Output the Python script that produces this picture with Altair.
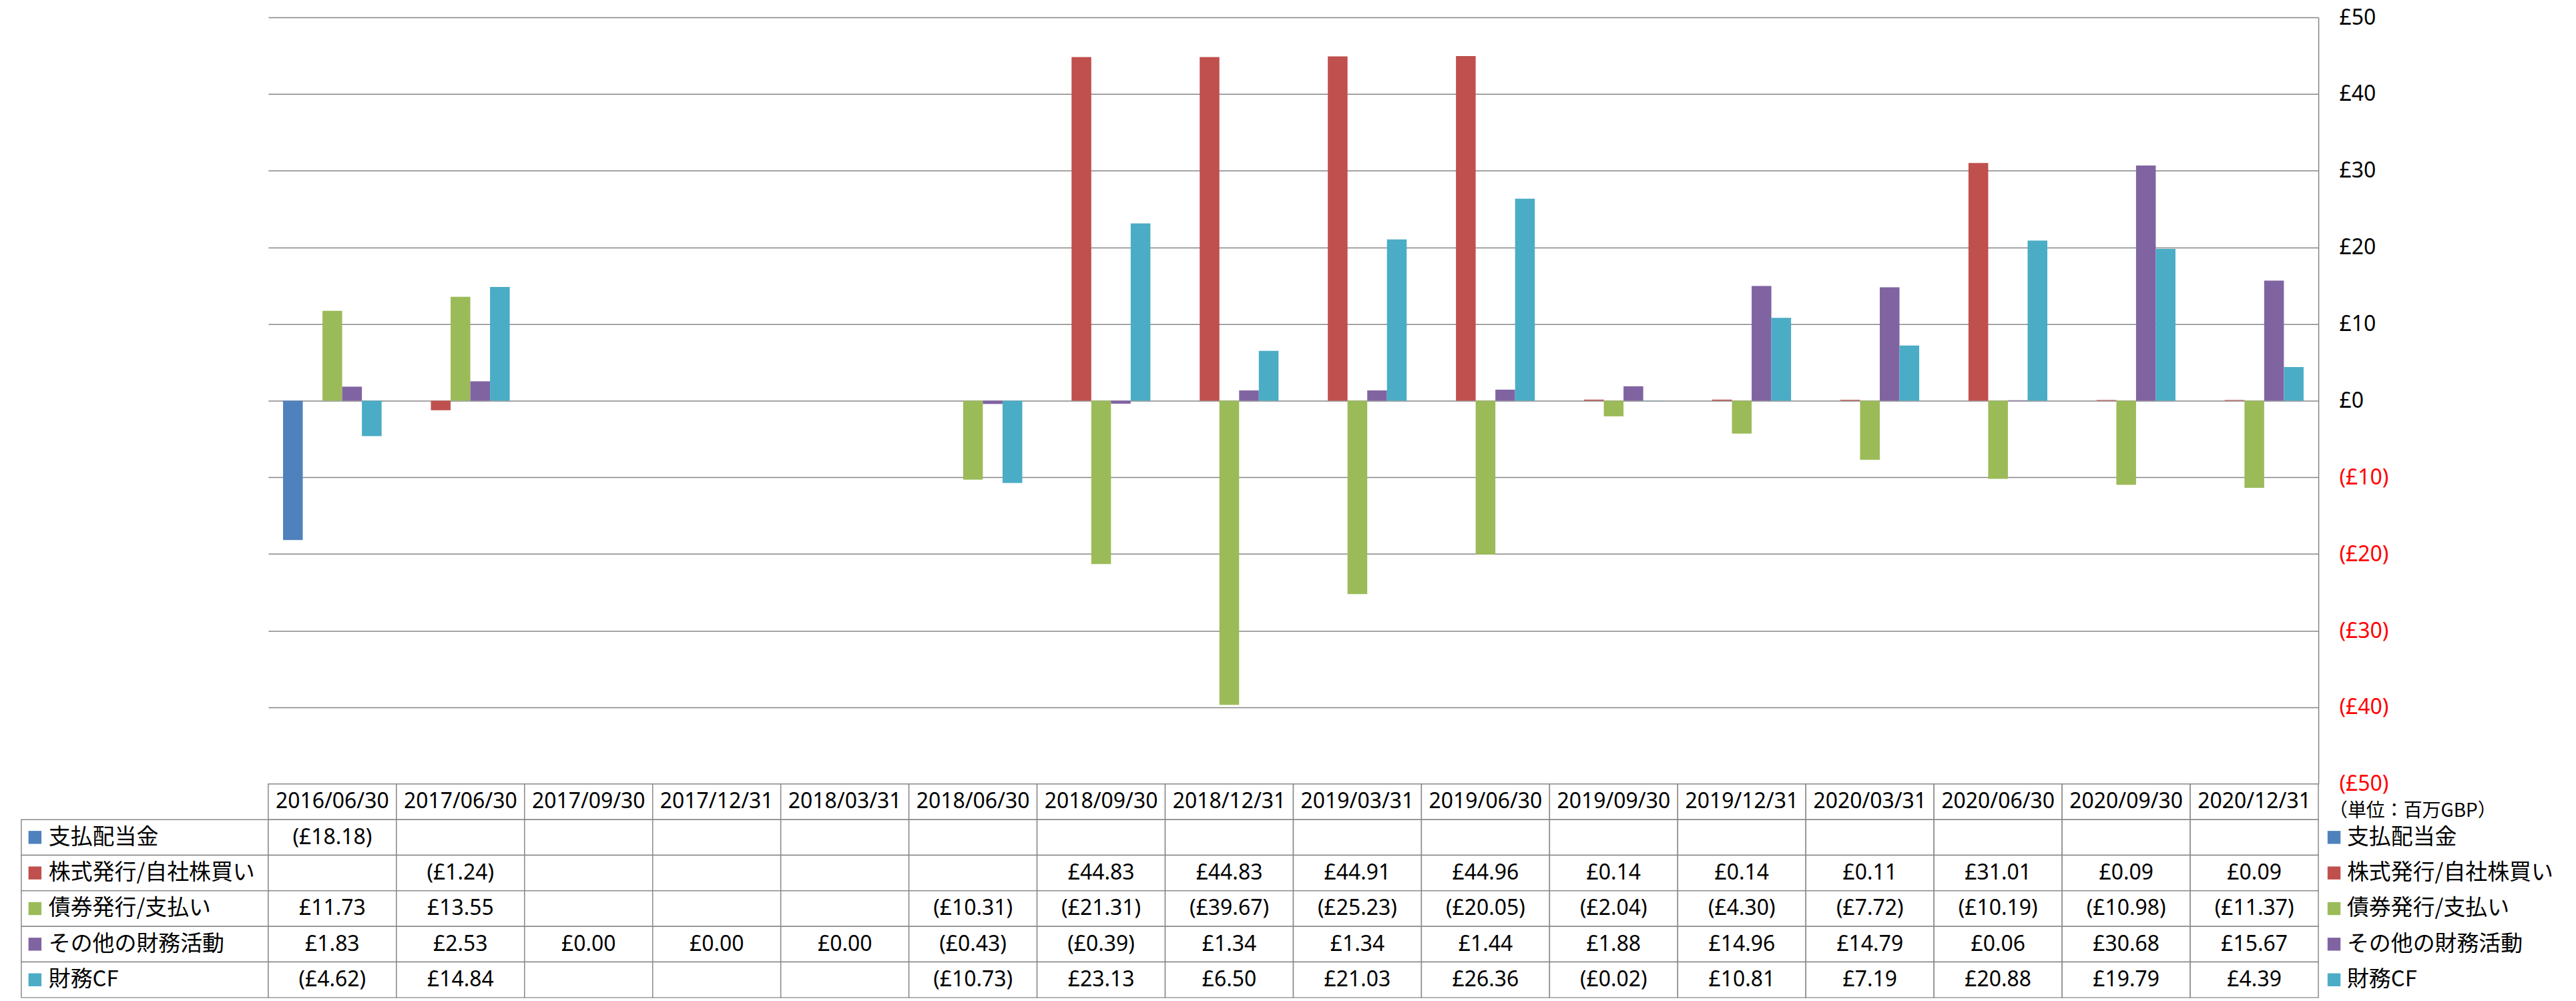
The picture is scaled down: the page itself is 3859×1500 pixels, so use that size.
import altair as alt
import pandas as pd

# ---------------- data ----------------
dates = ["2016/06/30", "2017/06/30", "2017/09/30", "2017/12/31", "2018/03/31",
         "2018/06/30", "2018/09/30", "2018/12/31", "2019/03/31", "2019/06/30",
         "2019/09/30", "2019/12/31", "2020/03/31", "2020/06/30", "2020/09/30",
         "2020/12/31"]
series = ["支払配当金", "株式発行/自社株買い", "債券発行/支払い", "その他の財務活動", "財務CF"]
colors = ["#4F81BD", "#C0504D", "#9BBB59", "#8064A2", "#4BACC6"]

dividends = [-18.18, None, None, None, None, None, None, None, None, None, None, None, None, None, None, None]
equity = [None, -1.24, None, None, None, None, 44.83, 44.83, 44.91, 44.96, 0.14, 0.14, 0.11, 31.01, 0.09, 0.09]
debt = [11.73, 13.55, None, None, None, -10.31, -21.31, -39.67, -25.23, -20.05, -2.04, -4.30, -7.72, -10.19, -10.98, -11.37]
other = [1.83, 2.53, 0.00, 0.00, 0.00, -0.43, -0.39, 1.34, 1.34, 1.44, 1.88, 14.96, 14.79, 0.06, 30.68, 15.67]
fin_cf = [-4.62, 14.84, None, None, None, -10.73, 23.13, 6.50, 21.03, 26.36, -0.02, 10.81, 7.19, 20.88, 19.79, 4.39]

y_ticks = [50, 40, 30, 20, 10, 0, -10, -20, -30, -40, -50]
unit_label = "（単位：百万GBP）"

all_values = [dividends, equity, debt, other, fin_cf]

rows = []
for s, vals in zip(series, all_values):
    for d, v in zip(dates, vals):
        rows.append({"date": d, "row": s, "value": v})
df = pd.DataFrame(rows)

HEADER = "header"
row_domain = [HEADER] + series
hdr = pd.DataFrame({"date": dates, "row": [HEADER] * len(dates), "value": [None] * len(dates)})
table_df = pd.concat([hdr, df], ignore_index=True)

# ---------------- styling ----------------
GRID = "#868686"
LINE = "#898989"
NUM_FONT = "Noto Sans"
JP_FONT = "Noto Sans CJK JP"
LABEL_W = 371
PLOT_W = 3080
LEGEND_W = 379
PLOT_H = 1152
TABLE_H = 321

x_scale = alt.Scale(domain=dates, paddingInner=0, paddingOuter=0)
row_scale = alt.Scale(domain=row_domain, paddingInner=0, paddingOuter=0)
color_scale = alt.Scale(domain=series, range=colors)

# ---------------- bars ----------------
bars = alt.Chart(df).transform_filter("isValid(datum.value)").mark_bar().encode(
    x=alt.X("date:N", scale=x_scale, axis=None),
    xOffset=alt.XOffset("row:N", scale=alt.Scale(domain=series, paddingInner=0, paddingOuter=0.75)),
    y=alt.Y("value:Q",
            scale=alt.Scale(domain=[-50, 50], nice=False, zero=False),
            axis=alt.Axis(orient="right", values=y_ticks, title=None,
                          ticks=False, domain=True, domainColor=GRID, domainWidth=1.5,
                          grid=True, gridColor=GRID, gridWidth=1.5,
                          labelFont=NUM_FONT, labelFontSize=32, labelPadding=31,
                          labelAlign="left",
                          labelExpr="datum.value < 0 ? '(£' + format(-datum.value, 'd') + ')' : '£' + format(datum.value, 'd')",
                          labelColor={"condition": {"test": "datum.value < 0", "value": "#FF0000"}, "value": "#000000"})),
    color=alt.Color("row:N", scale=color_scale, legend=None),
).properties(width=PLOT_W, height=PLOT_H)

spacer_left = alt.Chart(pd.DataFrame({"a": [0]})).mark_point(opacity=0).encode(
    x=alt.value(0), y=alt.value(0)
).properties(width=LABEL_W, height=PLOT_H)
spacer_right = alt.Chart(pd.DataFrame({"a": [0]})).mark_point(opacity=0).encode(
    x=alt.value(0), y=alt.value(0)
).properties(width=LEGEND_W, height=PLOT_H)

# ---------------- table cells ----------------
cell_base = alt.Chart(table_df).encode(
    x=alt.X("date:N", scale=x_scale, axis=None),
    y=alt.Y("row:N", scale=row_scale, axis=None),
)
cell_rect = cell_base.mark_rect(fill="white", stroke=LINE, strokeWidth=1.5)
cell_text = cell_base.transform_calculate(
    txt="datum.row == 'header' ? datum.date : (isValid(datum.value) ? (datum.value < 0 ? '(£' + format(-datum.value, '.2f') + ')' : '£' + format(datum.value, '.2f')) : '')"
).mark_text(font=NUM_FONT, fontSize=32, color="black", align="center", baseline="middle").encode(
    text="txt:N"
)
cells = alt.layer(cell_rect, cell_text).properties(width=PLOT_W, height=TABLE_H)

# ---------------- label column ----------------
lab_df = pd.DataFrame({"row": series, "col": ["label"] * len(series)})
lab_base = alt.Chart(lab_df).encode(y=alt.Y("row:N", scale=row_scale, axis=None))
lab_rect = lab_base.mark_rect(fill="white", stroke=LINE, strokeWidth=1.5).encode(
    x=alt.X("col:N", scale=alt.Scale(domain=["label"], paddingInner=0, paddingOuter=0), axis=None)
)
lab_sw = lab_base.mark_square(size=380, opacity=1).encode(
    x=alt.value(20.5),
    color=alt.Color("row:N", scale=color_scale, legend=None),
)
lab_txt = lab_base.mark_text(font=JP_FONT, fontSize=33, align="left", baseline="middle", color="black").encode(
    x=alt.value(41), text="row:N"
)
labels = alt.layer(lab_rect, lab_sw, lab_txt).properties(width=LABEL_W, height=TABLE_H)

# ---------------- legend column ----------------
leg_base = alt.Chart(lab_df).encode(y=alt.Y("row:N", scale=row_scale, axis=None))
leg_sw = leg_base.mark_square(size=380, opacity=1).encode(
    x=alt.value(23.5),
    color=alt.Color("row:N", scale=color_scale, legend=None),
)
leg_txt = leg_base.mark_text(font=JP_FONT, fontSize=33, align="left", baseline="middle", color="black").encode(
    x=alt.value(43), text="row:N"
)
unit = alt.Chart(pd.DataFrame({"row": [HEADER], "t": [unit_label]})).mark_text(
    font=JP_FONT, fontSize=28, align="left", baseline="middle", color="black", dy=15
).encode(y=alt.Y("row:N", scale=row_scale, axis=None), x=alt.value(16), text="t:N")
legend = alt.layer(leg_sw, leg_txt, unit).properties(width=LEGEND_W, height=TABLE_H)

chart = alt.concat(
    spacer_left, bars, spacer_right,
    labels, cells, legend,
    columns=3, spacing=0, bounds="flush",
).properties(
    padding={"left": 21, "top": 0, "right": 0, "bottom": 0},
    background="white",
).configure_view(strokeWidth=0)

chart.save("out.html", embed_options={"renderer": "svg", "actions": False})
